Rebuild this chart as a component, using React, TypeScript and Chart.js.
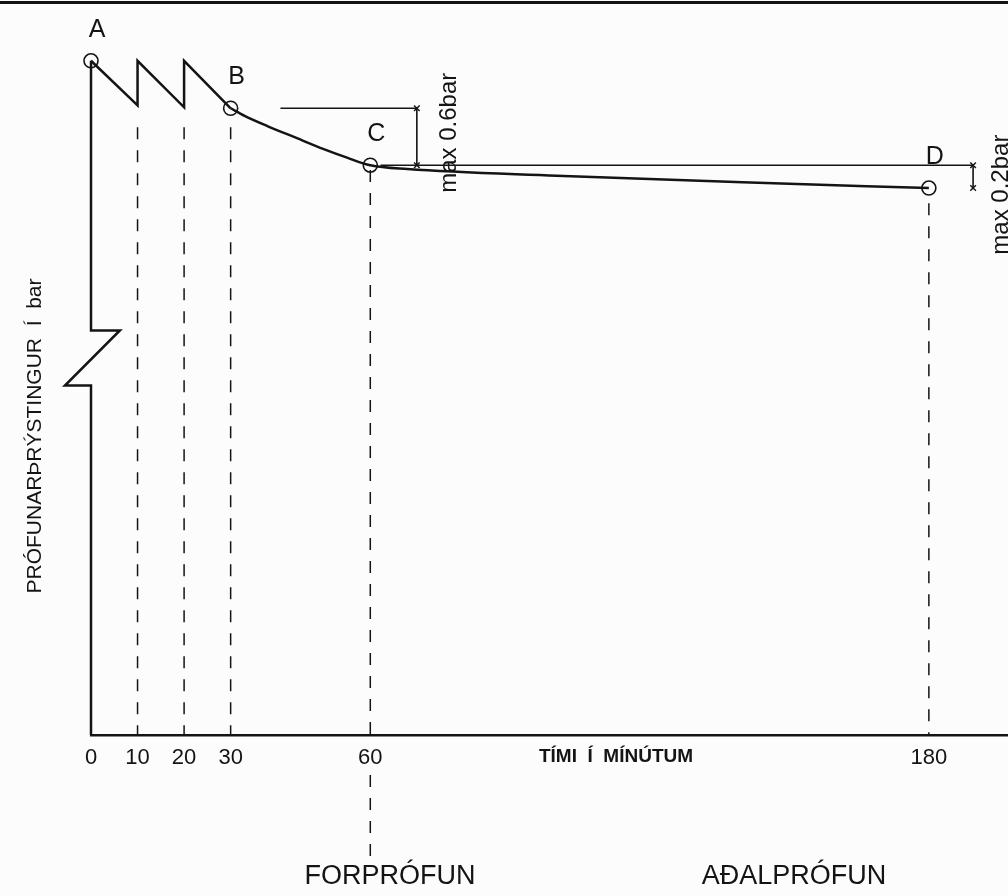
import React, { useEffect, useRef } from "react";
import { Chart, registerables } from "chart.js";

Chart.register(...registerables);

// ---- data (minutes, bar) ----
const xTicks = [0, 10, 20, 30, 60, 180];

const sawtoothX = [0, 10, 10, 20, 20, 30];
const sawtoothY = [7.1, 6.63, 7.1, 6.61, 7.1, 6.6];

const decayX = [30, 33, 38, 44, 50, 55, 60, 68, 100, 140, 180];
const decayY = [6.6, 6.52, 6.41, 6.29, 6.17, 6.08, 6.0, 5.96, 5.89, 5.82, 5.76];

const pointLabels = ["A", "B", "C", "D"];
const pointX = [0, 30, 60, 180];
const pointY = [7.1, 6.6, 6.0, 5.76];

const dropX = [10, 20, 30, 60, 60, 180];
const dropStartY = [6.4, 6.4, 6.4, 5.95, -0.42, 5.6];
const dropEndY = [0, 0, 0, 0, -1.3, 0];

const axisX = [0, 0, -5.6, 6.2, 0, 0];
const axisY = [0, 3.68, 3.68, 4.26, 4.26, 7.1];

const dim1X = [40.7, 70, 70];
const dim1Y = [6.6, 6.6, 6.0];
const dim2X = [62.2, 189.5, 189.5];
const dim2Y = [6.0, 6.0, 5.76];

const dimLabels = ["max 0.6bar", "max 0.2bar"];
const yTitle = "PRÓFUNARÞRÝSTINGUR  Í  bar";
const xTitle = "TÍMI  Í  MÍNÚTUM";
const phaseLabels = ["FORPRÓFUN", "AÐALPRÓFUN"];

const X_MIN = 0;
const X_MAX = 197;
const Y_MIN = 0;
const Y_MAX = 7.74;

const INK = "#141414";
const PAPER = "#fcfcfc";
const FONT = "'Liberation Sans', Arial, sans-serif";

const zip = (xs: number[], ys: number[]) => xs.map((x, i) => ({ x, y: ys[i] }));

const drawingPlugin = {
  id: "drawing",
  beforeDraw(chart: any) {
    const { ctx, width, height } = chart;
    ctx.save();
    ctx.fillStyle = PAPER;
    ctx.fillRect(0, 0, width, height);
    ctx.fillStyle = INK;
    ctx.fillRect(0, 1, width, 3);
    ctx.restore();
  },
  afterDraw(chart: any) {
    const { ctx, chartArea } = chart;
    const xs = chart.scales.x;
    const ys = chart.scales.y;
    ctx.save();
    ctx.fillStyle = INK;
    ctx.textAlign = "center";
    ctx.textBaseline = "middle";

    // point letters
    ctx.font = `25px ${FONT}`;
    pointLabels.forEach((lab, i) => {
      const px = xs.getPixelForValue(pointX[i]);
      const py = ys.getPixelForValue(pointY[i]);
      ctx.fillText(lab, px + 6, py - 31);
    });

    // rotated dimension labels
    ctx.font = `24px ${FONT}`;
    const d1x = xs.getPixelForValue(dim1X[1]);
    const d1y = (ys.getPixelForValue(dim1Y[1]) + ys.getPixelForValue(dim1Y[2])) / 2;
    ctx.save();
    ctx.translate(d1x + 33, d1y - 4);
    ctx.rotate(-Math.PI / 2);
    ctx.fillText(dimLabels[0], 0, 0);
    ctx.restore();

    const d2x = xs.getPixelForValue(dim2X[1]);
    const d2y = (ys.getPixelForValue(dim2Y[1]) + ys.getPixelForValue(dim2Y[2])) / 2;
    ctx.save();
    ctx.translate(d2x + 28, d2y + 18);
    ctx.rotate(-Math.PI / 2);
    ctx.fillText(dimLabels[1], 0, 0);
    ctx.restore();

    // y title
    ctx.font = `21px ${FONT}`;
    ctx.save();
    ctx.translate(35, 436);
    ctx.rotate(-Math.PI / 2);
    ctx.fillText(yTitle, 0, 0);
    ctx.restore();

    // x title
    ctx.font = `bold 19px ${FONT}`;
    ctx.fillText(xTitle, 616, chartArea.bottom + 22);

    // phase labels
    ctx.font = `27px ${FONT}`;
    ctx.fillText(phaseLabels[0], 390, 877);
    ctx.fillText(phaseLabels[1], 794, 877);

    ctx.restore();
  },
};

export default function App() {
  const canvasRef = useRef<HTMLCanvasElement | null>(null);

  useEffect(() => {
    if (!canvasRef.current) return;
    const lineBase = {
      type: "line" as const,
      borderColor: INK,
      backgroundColor: INK,
      pointRadius: 0,
      tension: 0,
      fill: false,
      clip: false as any,
    };
    const datasets: any[] = [
      { ...lineBase, label: "axis", data: zip(axisX, axisY), borderWidth: 2.5 },
      { ...lineBase, label: "sawtooth", data: zip(sawtoothX, sawtoothY), borderWidth: 2.5 },
      {
        ...lineBase,
        label: "decay",
        data: zip(decayX, decayY),
        borderWidth: 2.5,
        cubicInterpolationMode: "monotone",
      },
      ...dropX.map((x, i) => ({
        ...lineBase,
        label: "drop" + i,
        data: [
          { x, y: dropStartY[i] },
          { x, y: dropEndY[i] },
        ],
        borderWidth: 1.5,
        borderDash: [12, 11],
      })),
      {
        ...lineBase,
        label: "dim1",
        data: zip(dim1X, dim1Y),
        borderWidth: 1.6,
        pointRadius: [0, 4, 4],
        pointStyle: "crossRot",
        pointBorderColor: INK,
        pointBorderWidth: 1.4,
      },
      {
        ...lineBase,
        label: "dim2",
        data: zip(dim2X, dim2Y),
        borderWidth: 1.6,
        pointRadius: [0, 4, 4],
        pointStyle: "crossRot",
        pointBorderColor: INK,
        pointBorderWidth: 1.4,
      },
      {
        type: "scatter",
        label: "points",
        data: zip(pointX, pointY),
        showLine: false,
        pointRadius: 7,
        pointStyle: "circle",
        pointBorderColor: INK,
        pointBackgroundColor: "rgba(0,0,0,0)",
        pointBorderWidth: 1.6,
        clip: false,
      },
    ];

    const chart = new Chart(canvasRef.current, {
      type: "line",
      data: { datasets },
      options: {
        animation: false,
        responsive: false,
        devicePixelRatio: 1,
        layout: { autoPadding: false, padding: { left: 91, top: 0, right: 0, bottom: 114.6 } },
        plugins: {
          legend: { display: false },
          tooltip: { enabled: false },
          title: { display: false },
        },
        scales: {
          x: {
            type: "linear",
            min: X_MIN,
            max: X_MAX,
            position: "bottom",
            grid: { display: false, drawTicks: false },
            border: { display: true, color: INK, width: 2.5 },
            afterBuildTicks: (scale: any) => {
              scale.ticks = xTicks.map((v) => ({ value: v }));
            },
            ticks: {
              autoSkip: false,
              maxRotation: 0,
              minRotation: 0,
              padding: 10,
              color: INK,
              font: { family: FONT, size: 22 },
              callback: (v: any) => String(v),
            },
          },
          y: {
            type: "linear",
            min: Y_MIN,
            max: Y_MAX,
            display: false,
          },
        },
      },
      plugins: [drawingPlugin],
    } as any);

    return () => chart.destroy();
  }, []);

  return (
    <div style={{ position: "absolute", left: 0, top: 0, width: 1008, height: 896 }}>
      <canvas ref={canvasRef} width={1008} height={896} style={{ display: "block" }} />
    </div>
  );
}
